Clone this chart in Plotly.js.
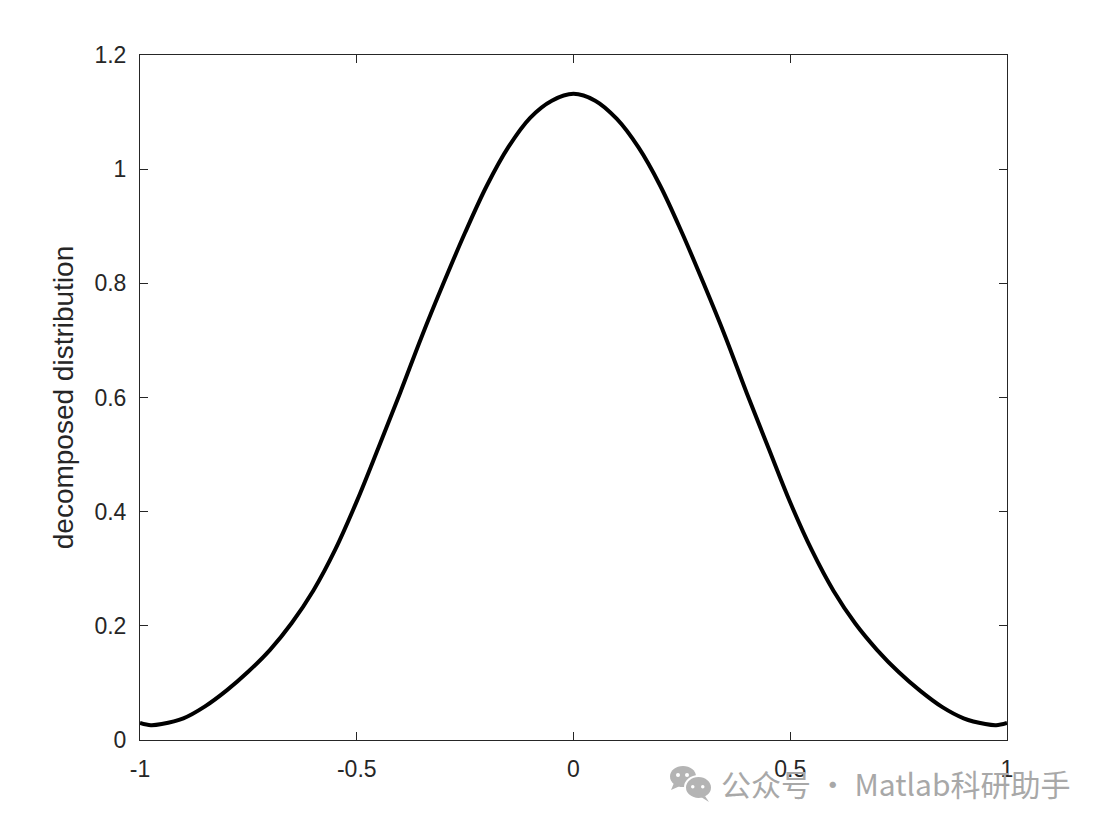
<!DOCTYPE html>
<html>
<head>
<meta charset="utf-8">
<script src="https://cdn.plot.ly/plotly-3.0.1.min.js"></script>
<style>html,body{margin:0;padding:0;background:#fff;}#chart{width:1110px;height:829px;}</style>
</head>
<body>
<div id="chart"></div>
<script>
// Data
const xValues = [-1.0, -0.975, -0.95, -0.9, -0.85, -0.8, -0.75, -0.7, -0.65, -0.6, -0.55, -0.5, -0.45, -0.4, -0.35, -0.3, -0.25, -0.2, -0.15, -0.1, -0.05, 0.0,
                 0.05, 0.1, 0.15, 0.2, 0.25, 0.3, 0.35, 0.4, 0.45, 0.5, 0.55, 0.6, 0.65, 0.7, 0.75, 0.8, 0.85, 0.9, 0.95, 0.975, 1.0];
const yValues = [0.030, 0.026, 0.028, 0.038, 0.059, 0.087, 0.120, 0.158, 0.205, 0.262, 0.333, 0.418, 0.512, 0.608, 0.707, 0.800, 0.889, 0.971, 1.039, 1.090, 1.120, 1.132,
                 1.120, 1.088, 1.038, 0.971, 0.889, 0.800, 0.707, 0.607, 0.511, 0.416, 0.332, 0.261, 0.204, 0.158, 0.119, 0.086, 0.058, 0.038, 0.028, 0.026, 0.030];
const xTicks = [-1, -0.5, 0, 0.5, 1];
const xTickLabels = ['-1', '-0.5', '0', '0.5', '1'];
const yTicks = [0, 0.2, 0.4, 0.6, 0.8, 1, 1.2];
const yTickLabels = ['0', '0.2', '0.4', '0.6', '0.8', '1', '1.2'];
const yLabel = 'decomposed distribution';
const watermark = '公众号 · Matlab科研助手';

// plot area in pixels: left 140, right 1007, top 55, bottom 740
const L = 140, R = 1007, T = 55, B = 740;
const px = v => (v - L) / (R - L);
const py = v => (B - v) / (B - T);

const axisCommon = {
  showgrid: false, zeroline: false, showline: true, mirror: 'ticks',
  linecolor: '#262626', linewidth: 1, ticks: 'inside', ticklen: 8, tickwidth: 1,
  tickcolor: '#262626', tickfont: {family: 'Liberation Sans, Arial, sans-serif', size: 23, color: '#262626'},
  fixedrange: true
};

const gray = '#b4b4b4';
const shapes = [
  {type: 'circle', xref: 'paper', yref: 'paper', x0: px(670), x1: px(696), y0: py(766), y1: py(787), fillcolor: gray, line: {width: 0}},
  {type: 'path', xref: 'paper', yref: 'paper', path: `M ${px(674)} ${py(783)} L ${px(671)} ${py(790)} L ${px(680)} ${py(786)} Z`, fillcolor: gray, line: {width: 0}},
  {type: 'circle', xref: 'paper', yref: 'paper', x0: px(685), x1: px(712), y0: py(776), y1: py(799), fillcolor: gray, line: {width: 2, color: '#ffffff'}},
  {type: 'path', xref: 'paper', yref: 'paper', path: `M ${px(705)} ${py(796)} L ${px(709)} ${py(802)} L ${px(701)} ${py(797)} Z`, fillcolor: gray, line: {width: 0}},
  {type: 'circle', xref: 'paper', yref: 'paper', x0: px(676), x1: px(680), y0: py(773), y1: py(777), fillcolor: '#ffffff', line: {width: 0}},
  {type: 'circle', xref: 'paper', yref: 'paper', x0: px(685), x1: px(689), y0: py(773), y1: py(777), fillcolor: '#ffffff', line: {width: 0}},
  {type: 'circle', xref: 'paper', yref: 'paper', x0: px(691), x1: px(694.5), y0: py(785), y1: py(788.5), fillcolor: '#ffffff', line: {width: 0}},
  {type: 'circle', xref: 'paper', yref: 'paper', x0: px(701), x1: px(704.5), y0: py(785), y1: py(788.5), fillcolor: '#ffffff', line: {width: 0}}
];

const data = [{
  x: xValues, y: yValues, type: 'scatter', mode: 'lines',
  line: {color: '#000000', width: 4, shape: 'spline', smoothing: 1},
  hoverinfo: 'skip'
}];

const layout = {
  width: 1110, height: 829,
  margin: {l: L, r: 1110 - R, t: T, b: 829 - B, pad: 0},
  paper_bgcolor: '#ffffff', plot_bgcolor: '#ffffff',
  showlegend: false,
  xaxis: Object.assign({}, axisCommon, {range: [-1, 1], tickvals: xTicks, ticktext: xTickLabels, ticklabelstandoff: 8}),
  yaxis: Object.assign({}, axisCommon, {range: [0, 1.2], tickvals: yTicks, ticktext: yTickLabels, ticklabelstandoff: 8,
    title: {text: yLabel, font: {family: 'Liberation Sans, Arial, sans-serif', size: 28, color: '#262626'}, standoff: 12}}),
  shapes: shapes,
  annotations: [{
    xref: 'paper', yref: 'paper', x: px(719), y: py(783), xanchor: 'left', yanchor: 'middle',
    text: watermark, showarrow: false,
    font: {family: 'Noto Sans CJK SC, sans-serif', size: 30, color: '#a8a8a8'}
  }]
};

Plotly.newPlot('chart', data, layout, {staticPlot: true, displayModeBar: false});
</script>
</body>
</html>
